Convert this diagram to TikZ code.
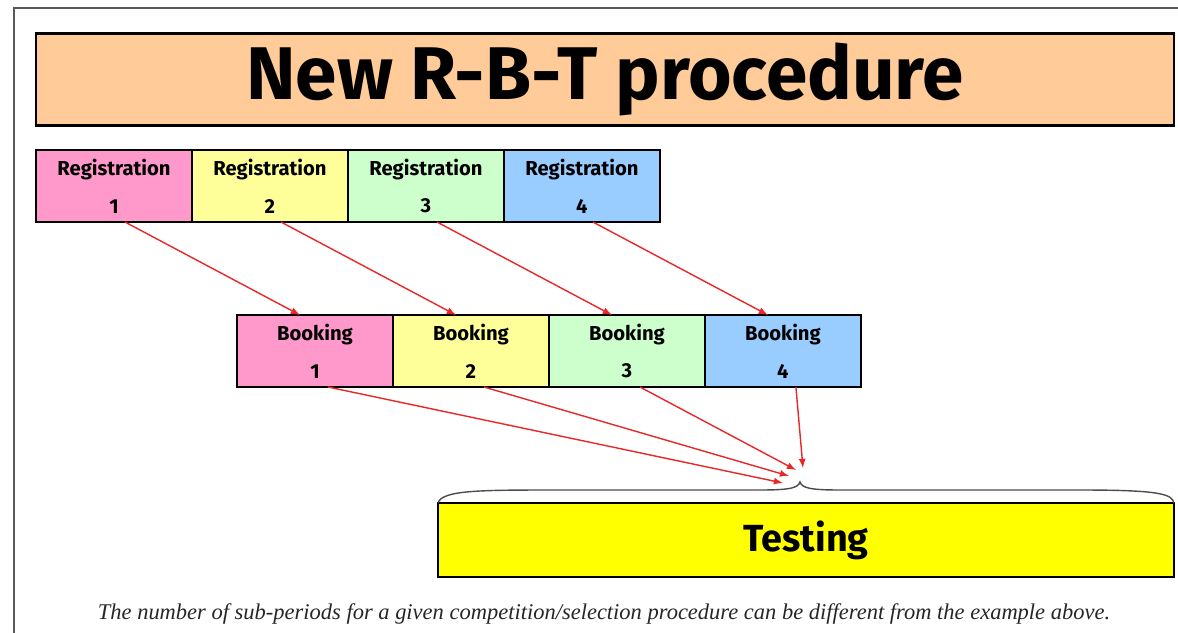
\documentclass[tikz,border=0pt]{standalone}
\usepackage{fontspec}
\newfontfamily\comicfont{Fira Sans}
\newfontfamily\notefont{Liberation Serif}
\usepackage{xcolor}
\usepackage{tikz}
\usetikzlibrary{calc, arrows, positioning}
\definecolor{titleorange}{RGB}{255,204,153}
\definecolor{pinkbox}{RGB}{255,153,204}
\definecolor{yellowbox}{RGB}{255,255,153}
\definecolor{greenbox}{RGB}{204,255,204}
\definecolor{bluebox}{RGB}{153,204,255}
\definecolor{testyellow}{RGB}{255,255,0}
\definecolor{arrowred}{RGB}{232,40,40}
\tikzset{
    titlenode/.style = {draw, rectangle, fill=titleorange, line width=1.2pt, inner sep=0em, outer sep=0em,
      minimum width=22.76cm, minimum height=1.84cm, font=\comicfont\bfseries\fontsize{42.5}{48}\selectfont},
    periodnode/.style = {draw, rectangle, line width=1.2pt, inner sep=0em, outer sep=0em,
      minimum width=3.12cm, minimum height=1.44cm, align=center,
      font=\comicfont\bfseries\fontsize{11.5}{21.5}\selectfont},
    testnode/.style = {draw, rectangle, fill=testyellow, line width=1.2pt, inner sep=0em, outer sep=0em,
      minimum width=14.72cm, minimum height=1.48cm, font=\comicfont\bfseries\fontsize{21.5}{26}\selectfont},
    notenode/.style = {draw=none, fill=none, inner sep=0em, text=black!85,
      font=\notefont\itshape\fontsize{12.8}{15}\selectfont},
    connect/.style = {arrowred, line width=0.8pt, -latex},
    bracepath/.style = {draw=gray!60!black, line width=0.8pt}
}

\begin{document}
\begin{tikzpicture}[x=0.02cm, y=-0.02cm]
    \useasboundingbox (0,0) rectangle (1178,633);
    % frame
    \draw [gray!70!black, line width=1.3pt] (14,633) -- (14,8) -- (1178,8);

    \node [name=title, titlenode] at (605,79.5) {New R-B-T procedure};

    \node [name=reg1, periodnode, fill=pinkbox] at (114,186) {Registration\\1};
    \node [name=reg2, periodnode, fill=yellowbox, right=0em of reg1] {Registration\\2};
    \node [name=reg3, periodnode, fill=greenbox, right=0em of reg2] {Registration\\3};
    \node [name=reg4, periodnode, fill=bluebox, right=0em of reg3] {Registration\\4};

    \node [name=book1, periodnode, fill=pinkbox] at (315,351) {Booking\\1};
    \node [name=book2, periodnode, fill=yellowbox, right=0em of book1] {Booking\\2};
    \node [name=book3, periodnode, fill=greenbox, right=0em of book2] {Booking\\3};
    \node [name=book4, periodnode, fill=bluebox, right=0em of book3] {Booking\\4};

    \node [name=testing, testnode] at (806,540) {Testing};

    % brace over testing
    \coordinate (tip) at (800,482);
    \draw [bracepath] (testing.north west) .. controls (442,490) and (480,490) .. (560,490)
        -- (760,490) .. controls (790,490) and (798,488) .. (tip)
        .. controls (802,488) and (810,490) .. (840,490) -- (1080,490)
        .. controls (1160,490) and (1172,494) .. (testing.north east);

    \coordinate (t1) at (783,483);
    \coordinate (t2) at (789,476);
    \coordinate (t3) at (796,470);
    \coordinate (t4) at (803,468);

    \foreach \i in {1,...,4}
        \draw [connect] ([xshift=0.22cm]reg\i.south) -- ([xshift=-0.3cm]book\i.north);
    \foreach \i in {1,...,4}
        \draw [connect] ([xshift=0.26cm]book\i.south) -- (t\i);

    \node [name=note, notenode] at (604,614) {The number of sub-periods for a given competition/selection procedure can be different from the example above.};
\end{tikzpicture}
\end{document}
